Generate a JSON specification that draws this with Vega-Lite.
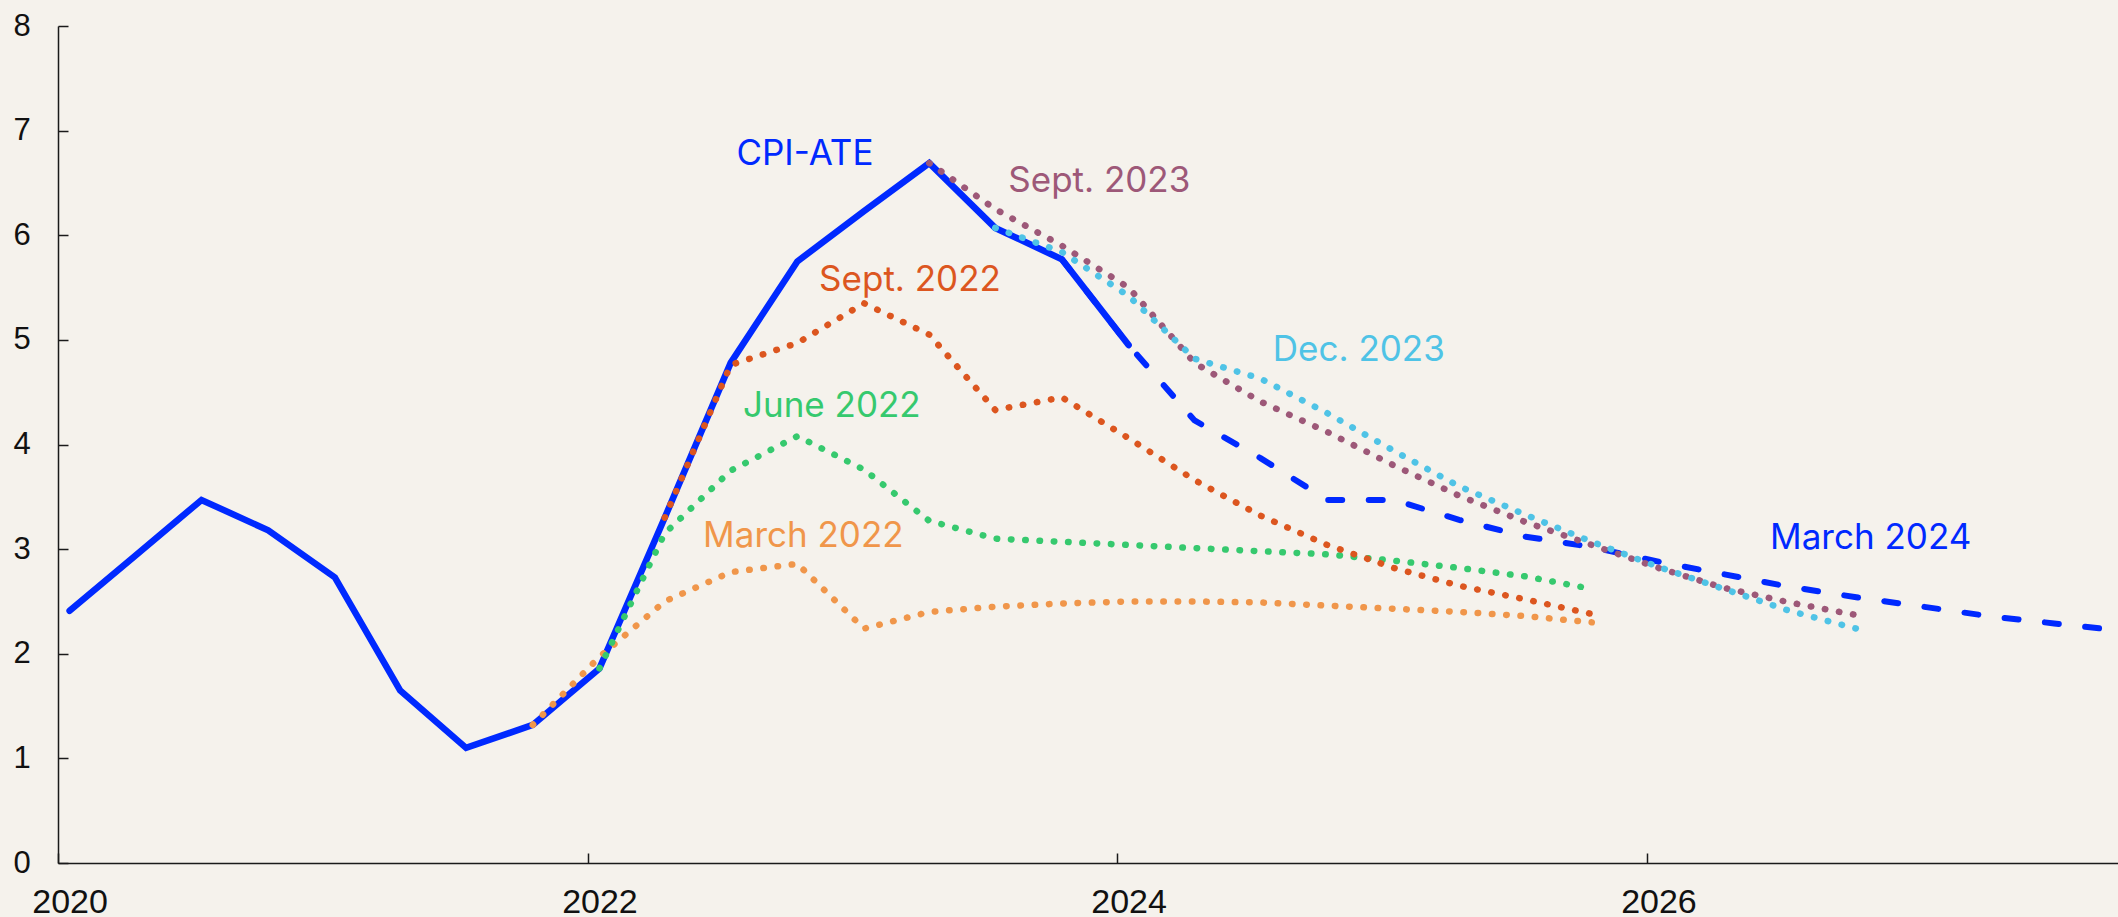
{
  "$schema": "https://vega.github.io/schema/vega-lite/v6.json",
  "width": 2060,
  "height": 837,
  "autosize": "none",
  "padding": {"left": 58, "top": 26, "right": 0, "bottom": 54},
  "background": "#f5f2ec",
  "config": {"view": {"stroke": null}, "font": "Liberation Sans"},
  "datasets": {
    "lines": [
      {"series": "CPI-ATE", "date": "2020-01-01", "value": 2.41},
      {"series": "CPI-ATE", "date": "2020-04-01", "value": 2.94},
      {"series": "CPI-ATE", "date": "2020-07-01", "value": 3.47},
      {"series": "CPI-ATE", "date": "2020-10-01", "value": 3.18},
      {"series": "CPI-ATE", "date": "2021-01-01", "value": 2.73},
      {"series": "CPI-ATE", "date": "2021-04-01", "value": 1.65},
      {"series": "CPI-ATE", "date": "2021-07-01", "value": 1.10},
      {"series": "CPI-ATE", "date": "2021-10-01", "value": 1.32},
      {"series": "CPI-ATE", "date": "2022-01-01", "value": 1.86},
      {"series": "CPI-ATE", "date": "2022-04-01", "value": 3.30},
      {"series": "CPI-ATE", "date": "2022-07-01", "value": 4.78},
      {"series": "CPI-ATE", "date": "2022-10-01", "value": 5.75},
      {"series": "CPI-ATE", "date": "2023-01-01", "value": 6.23},
      {"series": "CPI-ATE", "date": "2023-04-01", "value": 6.69},
      {"series": "CPI-ATE", "date": "2023-07-01", "value": 6.07},
      {"series": "CPI-ATE", "date": "2023-10-01", "value": 5.77},
      {"series": "CPI-ATE", "date": "2024-01-01", "value": 4.95},

      {"series": "March 2024", "date": "2023-10-01", "value": 5.77},
      {"series": "March 2024", "date": "2024-01-01", "value": 4.95},
      {"series": "March 2024", "date": "2024-04-01", "value": 4.23},
      {"series": "March 2024", "date": "2024-07-01", "value": 3.87},
      {"series": "March 2024", "date": "2024-10-01", "value": 3.47},
      {"series": "March 2024", "date": "2025-01-01", "value": 3.47},
      {"series": "March 2024", "date": "2025-04-01", "value": 3.28},
      {"series": "March 2024", "date": "2025-07-01", "value": 3.12},
      {"series": "March 2024", "date": "2025-10-01", "value": 3.02},
      {"series": "March 2024", "date": "2026-01-01", "value": 2.88},
      {"series": "March 2024", "date": "2026-04-01", "value": 2.76},
      {"series": "March 2024", "date": "2026-07-01", "value": 2.64},
      {"series": "March 2024", "date": "2026-10-01", "value": 2.54},
      {"series": "March 2024", "date": "2027-01-01", "value": 2.45},
      {"series": "March 2024", "date": "2027-04-01", "value": 2.36},
      {"series": "March 2024", "date": "2027-07-01", "value": 2.29},
      {"series": "March 2024", "date": "2027-10-01", "value": 2.22},

      {"series": "March 2022", "date": "2021-10-01", "value": 1.32},
      {"series": "March 2022", "date": "2022-01-01", "value": 1.97},
      {"series": "March 2022", "date": "2022-04-01", "value": 2.50},
      {"series": "March 2022", "date": "2022-07-01", "value": 2.78},
      {"series": "March 2022", "date": "2022-10-01", "value": 2.86},
      {"series": "March 2022", "date": "2023-01-01", "value": 2.24},
      {"series": "March 2022", "date": "2023-04-01", "value": 2.40},
      {"series": "March 2022", "date": "2023-07-01", "value": 2.45},
      {"series": "March 2022", "date": "2023-10-01", "value": 2.48},
      {"series": "March 2022", "date": "2024-01-01", "value": 2.50},
      {"series": "March 2022", "date": "2024-04-01", "value": 2.50},
      {"series": "March 2022", "date": "2024-07-01", "value": 2.49},
      {"series": "March 2022", "date": "2024-10-01", "value": 2.46},
      {"series": "March 2022", "date": "2025-01-01", "value": 2.43},
      {"series": "March 2022", "date": "2025-04-01", "value": 2.40},
      {"series": "March 2022", "date": "2025-07-01", "value": 2.36},
      {"series": "March 2022", "date": "2025-10-01", "value": 2.30},

      {"series": "June 2022", "date": "2022-01-01", "value": 1.86},
      {"series": "June 2022", "date": "2022-04-01", "value": 3.15},
      {"series": "June 2022", "date": "2022-07-01", "value": 3.75},
      {"series": "June 2022", "date": "2022-10-01", "value": 4.08},
      {"series": "June 2022", "date": "2023-01-01", "value": 3.76},
      {"series": "June 2022", "date": "2023-04-01", "value": 3.27},
      {"series": "June 2022", "date": "2023-07-01", "value": 3.10},
      {"series": "June 2022", "date": "2023-10-01", "value": 3.07},
      {"series": "June 2022", "date": "2024-01-01", "value": 3.04},
      {"series": "June 2022", "date": "2024-04-01", "value": 3.01},
      {"series": "June 2022", "date": "2024-07-01", "value": 2.98},
      {"series": "June 2022", "date": "2024-10-01", "value": 2.95},
      {"series": "June 2022", "date": "2025-01-01", "value": 2.89},
      {"series": "June 2022", "date": "2025-04-01", "value": 2.82},
      {"series": "June 2022", "date": "2025-07-01", "value": 2.74},
      {"series": "June 2022", "date": "2025-10-01", "value": 2.62},

      {"series": "Sept. 2022", "date": "2022-04-01", "value": 3.30},
      {"series": "Sept. 2022", "date": "2022-07-01", "value": 4.76},
      {"series": "Sept. 2022", "date": "2022-10-01", "value": 4.97},
      {"series": "Sept. 2022", "date": "2023-01-01", "value": 5.35},
      {"series": "Sept. 2022", "date": "2023-04-01", "value": 5.05},
      {"series": "Sept. 2022", "date": "2023-07-01", "value": 4.33},
      {"series": "Sept. 2022", "date": "2023-10-01", "value": 4.45},
      {"series": "Sept. 2022", "date": "2024-01-01", "value": 4.06},
      {"series": "Sept. 2022", "date": "2024-04-01", "value": 3.66},
      {"series": "Sept. 2022", "date": "2024-07-01", "value": 3.32},
      {"series": "Sept. 2022", "date": "2024-10-01", "value": 3.04},
      {"series": "Sept. 2022", "date": "2025-01-01", "value": 2.82},
      {"series": "Sept. 2022", "date": "2025-04-01", "value": 2.65},
      {"series": "Sept. 2022", "date": "2025-07-01", "value": 2.52},
      {"series": "Sept. 2022", "date": "2025-10-01", "value": 2.38},

      {"series": "Sept. 2023", "date": "2023-04-01", "value": 6.69},
      {"series": "Sept. 2023", "date": "2023-07-01", "value": 6.25},
      {"series": "Sept. 2023", "date": "2023-10-01", "value": 5.90},
      {"series": "Sept. 2023", "date": "2024-01-01", "value": 5.50},
      {"series": "Sept. 2023", "date": "2024-04-01", "value": 4.78},
      {"series": "Sept. 2023", "date": "2024-07-01", "value": 4.41},
      {"series": "Sept. 2023", "date": "2024-10-01", "value": 4.12},
      {"series": "Sept. 2023", "date": "2025-01-01", "value": 3.80},
      {"series": "Sept. 2023", "date": "2025-04-01", "value": 3.51},
      {"series": "Sept. 2023", "date": "2025-07-01", "value": 3.26},
      {"series": "Sept. 2023", "date": "2025-10-01", "value": 3.04},
      {"series": "Sept. 2023", "date": "2026-01-01", "value": 2.82},
      {"series": "Sept. 2023", "date": "2026-04-01", "value": 2.63},
      {"series": "Sept. 2023", "date": "2026-07-01", "value": 2.49},
      {"series": "Sept. 2023", "date": "2026-10-01", "value": 2.37},

      {"series": "Dec. 2023", "date": "2023-07-01", "value": 6.07},
      {"series": "Dec. 2023", "date": "2023-10-01", "value": 5.84},
      {"series": "Dec. 2023", "date": "2024-01-01", "value": 5.42},
      {"series": "Dec. 2023", "date": "2024-04-01", "value": 4.82},
      {"series": "Dec. 2023", "date": "2024-07-01", "value": 4.63},
      {"series": "Dec. 2023", "date": "2024-10-01", "value": 4.30},
      {"series": "Dec. 2023", "date": "2025-01-01", "value": 3.94},
      {"series": "Dec. 2023", "date": "2025-04-01", "value": 3.60},
      {"series": "Dec. 2023", "date": "2025-07-01", "value": 3.33},
      {"series": "Dec. 2023", "date": "2025-10-01", "value": 3.07},
      {"series": "Dec. 2023", "date": "2026-01-01", "value": 2.83},
      {"series": "Dec. 2023", "date": "2026-04-01", "value": 2.62},
      {"series": "Dec. 2023", "date": "2026-07-01", "value": 2.41},
      {"series": "Dec. 2023", "date": "2026-10-01", "value": 2.24}
    ],
    "labels": [
      {"series": "CPI-ATE", "label": "CPI-ATE", "date": "2022-07-09", "value": 6.67},
      {"series": "Sept. 2023", "label": "Sept. 2023", "date": "2023-07-19", "value": 6.41},
      {"series": "Sept. 2022", "label": "Sept. 2022", "date": "2022-10-31", "value": 5.47},
      {"series": "June 2022", "label": "June 2022", "date": "2022-07-18", "value": 4.26},
      {"series": "March 2022", "label": "March 2022", "date": "2022-05-24", "value": 3.02},
      {"series": "Dec. 2023", "label": "Dec. 2023", "date": "2024-07-18", "value": 4.80},
      {"series": "March 2024", "label": "March 2024", "date": "2026-06-04", "value": 3.00}
    ]
  },
  "encoding": {
    "x": {
      "field": "date",
      "type": "temporal",
      "scale": {"domain": [{"year": 2019, "month": 12, "date": 16}, {"year": 2027, "month": 9, "date": 27}]},
      "axis": {
        "title": null,
        "grid": false,
        "values": [{"year": 2020, "month": 1, "date": 1}, {"year": 2022, "month": 1, "date": 1}, {"year": 2024, "month": 1, "date": 1}, {"year": 2026, "month": 1, "date": 1}],
        "format": "%Y",
        "labelFont": "Liberation Sans",
        "labelFontSize": 34,
        "labelColor": "#111111",
        "labelFlush": false,
        "labelOverlap": false,
        "labelBound": false,
        "tickSize": -10,
        "tickOffset": -11.6,
        "labelOffset": 11.6,
        "labelPadding": 32.4,
        "tickColor": "#1a1a1a",
        "tickWidth": 1.5,
        "domainColor": "#1a1a1a",
        "domainWidth": 1.5
      }
    },
    "y": {
      "field": "value",
      "type": "quantitative",
      "scale": {"domain": [0, 8], "nice": false},
      "axis": {
        "title": null,
        "grid": false,
        "values": [0, 1, 2, 3, 4, 5, 6, 7, 8],
        "labelFont": "Liberation Sans",
        "labelFontSize": 31,
        "labelColor": "#111111",
        "labelFlush": false,
        "labelOverlap": false,
        "labelBound": false,
        "tickSize": -10,
        "labelPadding": 37.7,
        "tickColor": "#1a1a1a",
        "tickWidth": 1.5,
        "domainColor": "#1a1a1a",
        "domainWidth": 1.5
      }
    },
    "color": {
      "field": "series",
      "type": "nominal",
      "scale": {
        "domain": ["CPI-ATE", "March 2022", "June 2022", "Sept. 2022", "Sept. 2023", "Dec. 2023", "March 2024"],
        "range": ["#0029ff", "#f0964a", "#36c96e", "#dc561f", "#9d5878", "#4fc3e6", "#0029ff"]
      },
      "legend": null
    }
  },
  "layer": [
    {
      "data": {"name": "lines"},
      "transform": [{"filter": "datum.series === 'CPI-ATE'"}],
      "mark": {"type": "line", "strokeWidth": 6.5, "strokeCap": "round", "strokeJoin": "miter", "clip": true}
    },
    {
      "data": {"name": "lines"},
      "transform": [{"filter": "datum.series === 'March 2024'"}],
      "mark": {"type": "line", "strokeWidth": 6, "strokeCap": "round", "strokeDash": [14, 26.5], "clip": true}
    },
    {
      "data": {"name": "lines"},
      "transform": [{"filter": "datum.series !== 'CPI-ATE' && datum.series !== 'March 2024'"}],
      "mark": {"type": "line", "strokeWidth": 6.5, "strokeCap": "round", "strokeDash": [0.5, 13.8], "clip": true}
    },
    {
      "data": {"name": "labels"},
      "mark": {"type": "text", "align": "left", "baseline": "alphabetic", "font": "Inter", "fontSize": 35},
      "encoding": {"text": {"field": "label"}}
    }
  ]
}
